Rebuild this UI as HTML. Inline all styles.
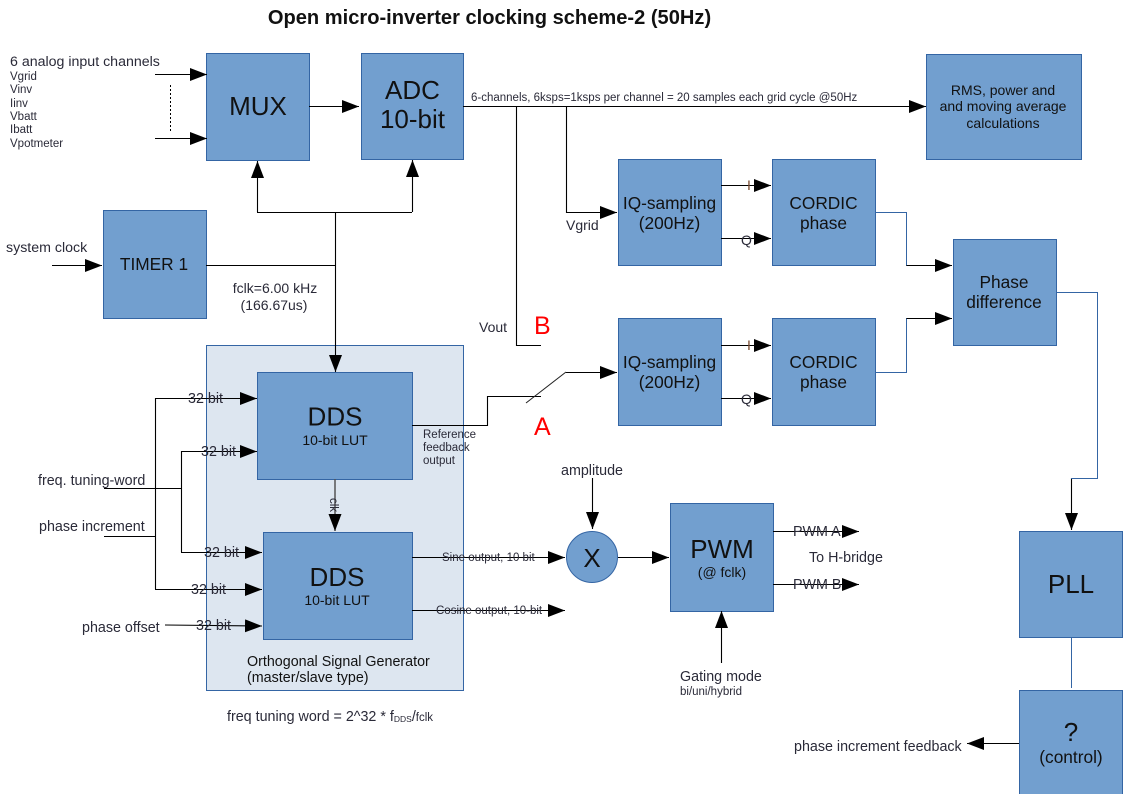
<!DOCTYPE html>
<html><head><meta charset="utf-8"><style>
html,body{margin:0;padding:0;background:#fff}
svg{display:block}
text{font-family:"Liberation Sans",sans-serif;fill:#2a2a38}
.b{fill:#729fcf;stroke:#3465a4;stroke-width:1}
.t{fill:#111;text-anchor:middle}
.l{fill:none;stroke:#000;stroke-width:1.1}
.bl{fill:none;stroke:#3465a4;stroke-width:1}
</style></head><body>
<svg width="1123" height="794" viewBox="0 0 1123 794" xmlns="http://www.w3.org/2000/svg">
<defs>
<marker id="a" markerUnits="userSpaceOnUse" markerWidth="18" markerHeight="13" refX="17" refY="6.500" orient="auto"><path d="M0 0L17 6.500L0 13Z" fill="#000"/></marker>
</defs>
<rect width="1123" height="794" fill="#fff"/>
<text x="489.500" y="24" font-size="20.100" font-weight="bold" text-anchor="middle" style="fill:#111">Open micro-inverter clocking scheme-2 (50Hz)</text>

<rect x="206.500" y="345.500" width="257" height="345" fill="#dde6f0" stroke="#3465a4"/>

<rect class="b" x="206.500" y="53.500" width="103" height="107"/>
<rect class="b" x="361.500" y="53.500" width="102" height="106"/>
<rect class="b" x="926.500" y="54.500" width="155" height="105"/>
<rect class="b" x="618.500" y="159.500" width="103" height="106"/>
<rect class="b" x="772.500" y="159.500" width="103" height="106"/>
<rect class="b" x="953.500" y="239.500" width="103" height="106"/>
<rect class="b" x="618.500" y="318.500" width="103" height="107"/>
<rect class="b" x="772.500" y="318.500" width="103" height="107"/>
<rect class="b" x="103.500" y="210.500" width="103" height="108"/>
<rect class="b" x="257.500" y="372.500" width="155" height="107"/>
<rect class="b" x="263.500" y="532.500" width="149" height="107"/>
<rect class="b" x="670.500" y="503.500" width="103" height="108"/>
<rect class="b" x="1019.500" y="531.500" width="103" height="106"/>
<rect class="b" x="1019.500" y="690.500" width="103" height="104"/>
<circle class="b" cx="592" cy="557" r="25.500"/>

<g class="l" transform="translate(0,0)">
<path d="M155 74.500H207" marker-end="url(#a)"/>
<path d="M155 138.500H207" marker-end="url(#a)"/>
<path d="M170.500 85V132" stroke-dasharray="2 2" stroke-width="1"/>
<path d="M309 106.500H359" marker-end="url(#a)"/>
<path d="M463 106.500H926" marker-end="url(#a)"/>
<path d="M516.500 106V345.500H541"/>
<path d="M566.500 106V212.500H617" marker-end="url(#a)"/>
<path d="M52 265.500H102" marker-end="url(#a)"/>
<path d="M206 265.500H335"/>
<path d="M257.500 212V161" marker-end="url(#a)"/>
<path d="M257 212.500H412"/>
<path d="M412.500 212V160" marker-end="url(#a)"/>
<path d="M335.500 212V372" marker-end="url(#a)"/>
<path d="M412 425.500H487.500V396.500H541"/>
<path d="M566 372.500H617" marker-end="url(#a)"/>
<path d="M721 185.500H771" marker-end="url(#a)"/>
<path d="M721 238.500H771" marker-end="url(#a)"/>
<path d="M721 345.500H771" marker-end="url(#a)"/>
<path d="M721 398.500H771" marker-end="url(#a)"/>
<path d="M104 488.500H181"/>
<path d="M104 536.500H155"/>
<path d="M155.500 398V589"/>
<path d="M181.500 451V552"/>
<path d="M155 398.500H257" marker-end="url(#a)"/>
<path d="M181 451.500H257" marker-end="url(#a)"/>
<path d="M181 552.500H262" marker-end="url(#a)"/>
<path d="M155 589.500H262" marker-end="url(#a)"/>
<path d="M412 557.500H565" marker-end="url(#a)"/>
<path d="M412 610.500H565" marker-end="url(#a)"/>
<path d="M618 557.500H669" marker-end="url(#a)"/>
<path d="M592.500 478V529" marker-end="url(#a)"/>
<path d="M773 531.500H859" marker-end="url(#a)"/>
<path d="M773 584.500H859" marker-end="url(#a)"/>
<path d="M721.500 663V611" marker-end="url(#a)"/>
<path d="M1019 743.500H967" marker-end="url(#a)"/>
<path d="M1071.500 478V530" marker-end="url(#a)"/>
<path d="M906 265.500H952" marker-end="url(#a)"/>
<path d="M906 318.500H952" marker-end="url(#a)"/>
</g>
<path d="M165 625L262 626" class="l" marker-end="url(#a)"/>
<path d="M335 479V531" fill="none" stroke="#555" stroke-width="1.500" marker-end="url(#a)"/>
<path d="M526 403L566 372" fill="none" stroke="#222" stroke-width="1"/>
<path class="bl" d="M875 212.500H906.500V265.500"/>
<path class="bl" d="M875 372.500H906.500V318.500"/>
<path class="bl" d="M1056 292.500H1097.500V478.500H1071"/>
<path class="bl" d="M1071.500 637V688"/>

<text class="t" x="258" y="115" font-size="26">MUX</text>
<text class="t" x="412.500" y="99" font-size="26">ADC</text>
<text class="t" x="412.500" y="128" font-size="26">10-bit</text>
<text class="t" x="1003" y="95" font-size="14">RMS, power and</text>
<text class="t" x="1003" y="111" font-size="14">and moving average</text>
<text class="t" x="1003" y="128" font-size="14">calculations</text>
<text class="t" x="669.500" y="209" font-size="17.300">IQ-sampling</text>
<text class="t" x="669.500" y="229" font-size="17.300">(200Hz)</text>
<text class="t" x="823.500" y="209" font-size="17.300">CORDIC</text>
<text class="t" x="823.500" y="229" font-size="17.300">phase</text>
<text class="t" x="1004" y="288" font-size="17.300">Phase</text>
<text class="t" x="1004" y="308" font-size="17.300">difference</text>
<text class="t" x="669.500" y="368" font-size="17.300">IQ-sampling</text>
<text class="t" x="669.500" y="388" font-size="17.300">(200Hz)</text>
<text class="t" x="823.500" y="368" font-size="17.300">CORDIC</text>
<text class="t" x="823.500" y="388" font-size="17.300">phase</text>
<text class="t" x="154" y="270" font-size="17.300">TIMER 1</text>
<text class="t" x="335" y="425.500" font-size="26">DDS</text>
<text class="t" x="335" y="445" font-size="14">10-bit LUT</text>
<text class="t" x="337" y="586" font-size="26">DDS</text>
<text class="t" x="337" y="605" font-size="14">10-bit LUT</text>
<text class="t" x="722" y="558" font-size="26">PWM</text>
<text class="t" x="722" y="577" font-size="14">(@ fclk)</text>
<text class="t" x="1071" y="593" font-size="26">PLL</text>
<text class="t" x="1071" y="741" font-size="26">?</text>
<text class="t" x="1071" y="763" font-size="17.300">(control)</text>
<text class="t" x="592" y="567" font-size="26">X</text>

<text x="10" y="66" font-size="14.200">6 analog input channels</text>
<g font-size="11.500">
<text x="10" y="80">Vgrid</text>
<text x="10" y="93">Vinv</text>
<text x="10" y="107">Iinv</text>
<text x="10" y="120">Vbatt</text>
<text x="10" y="133">Ibatt</text>
<text x="10" y="147">Vpotmeter</text>
</g>
<text x="471" y="101" font-size="11.500">6-channels, 6ksps=1ksps per channel = 20 samples each grid cycle @50Hz</text>
<text x="6" y="252" font-size="14.200">system clock</text>
<text x="275" y="293" font-size="14" text-anchor="middle">fclk=6.00 kHz</text>
<text x="274" y="310" font-size="14" text-anchor="middle">(166.67us)</text>
<text x="566" y="230" font-size="14">Vgrid</text>
<text x="479" y="332" font-size="14">Vout</text>
<text x="534" y="334" font-size="25" style="fill:#ff0000">B</text>
<text x="534" y="435" font-size="25" style="fill:#ff0000">A</text>
<text x="747" y="190" font-size="14" style="fill:#7a4a30">I</text>
<text x="741" y="245" font-size="14">Q</text>
<text x="747" y="350" font-size="14" style="fill:#7a4a30">I</text>
<text x="741" y="404" font-size="14">Q</text>
<g font-size="14.300">
<text x="188" y="403">32 bit</text>
<text x="201" y="456">32 bit</text>
<text x="204" y="557">32 bit</text>
<text x="191" y="594">32 bit</text>
<text x="196" y="630">32 bit</text>
<text x="38" y="485">freq. tuning-word</text>
<text x="39" y="531">phase increment</text>
<text x="82" y="632">phase offset</text>
<text x="247" y="666" style="fill:#111">Orthogonal Signal Generator</text>
<text x="247" y="682" style="fill:#111">(master/slave type)</text>
<text x="227" y="721">freq tuning word = 2^32 * f<tspan font-size="8.500" dy="1">DDS</tspan><tspan dy="-1">/</tspan><tspan font-size="11.500" dy="0">fclk</tspan></text>
<text x="561" y="475">amplitude</text>
<text x="793" y="536">PWM A</text>
<text x="809" y="562">To H-bridge</text>
<text x="793" y="589">PWM B</text>
<text x="680" y="681">Gating mode</text>
<text x="794" y="751">phase increment feedback</text>
</g>
<text x="423" y="438" font-size="11.500">Reference</text>
<text x="423" y="451" font-size="11.500">feedback</text>
<text x="423" y="464" font-size="11.500">output</text>
<text x="0" y="0" font-size="11.500" transform="translate(330,498) rotate(90)">clk</text>
<text x="442" y="561" font-size="11.500">Sine output, 10 bit</text>
<text x="436" y="614" font-size="11.500">Cosine output, 10-bit</text>
<text x="680" y="695" font-size="11.500">bi/uni/hybrid</text>
</svg>
</body></html>
